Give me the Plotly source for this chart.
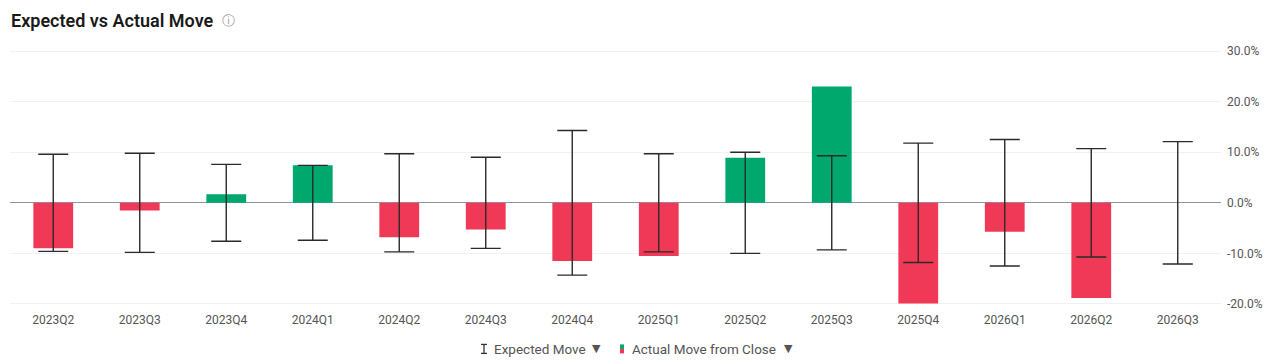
import plotly.graph_objects as go

quarters = ["2023Q2", "2023Q3", "2023Q4", "2024Q1", "2024Q2", "2024Q3", "2024Q4",
            "2025Q1", "2025Q2", "2025Q3", "2025Q4", "2026Q1", "2026Q2", "2026Q3"]
expected_move = [9.6, 9.8, 7.6, 7.4, 9.7, 9.0, 14.3, 9.7, 10.0, 9.3, 11.8, 12.5, 10.7, 12.1]
actual_move = [-9.0, -1.5, 1.7, 7.4, -6.8, -5.3, -11.5, -10.5, 8.9, 23.0, -19.9, -5.7, -18.8, None]
y_ticks = [-20, -10, 0, 10, 20, 30]
y_tick_labels = ["-20.0%", "-10.0%", "0.0%", "10.0%", "20.0%", "30.0%"]

GREEN = "#00a86e"
RED = "#f03957"
TEXT = "#555555"

W, H = 1272, 363
L, R, T, B = 10, 51, 49.5, 58

def px2x(px):
    return (px - L) / (W - L - R)

def py2y(py):
    return (H - B - py) / (H - T - B)

bar_colors = [(GREEN if (v is not None and v >= 0) else RED) for v in actual_move]

fig = go.Figure()
fig.add_trace(go.Bar(
    x=quarters, y=actual_move, marker=dict(color=bar_colors, line=dict(width=0)),
    width=0.46, hoverinfo="skip"))
fig.add_trace(go.Scatter(
    x=quarters, y=[0] * len(quarters), mode="markers",
    marker=dict(size=0.1, color="rgba(0,0,0,0)"),
    error_y=dict(type="data", array=expected_move, symmetric=True,
                 color="#2a2a2a", thickness=1.4, width=15)))

shapes = []
annotations = []

# title
annotations.append(dict(text="Expected vs Actual Move", x=px2x(9), y=py2y(20),
                        xref="paper", yref="paper", xanchor="left", yanchor="middle",
                        showarrow=False, font=dict(family="Roboto", size=18, color="#1a1a1a", weight=600)))
annotations.append(dict(text="ⓘ", x=px2x(220), y=py2y(20),
                        xref="paper", yref="paper", xanchor="left", yanchor="middle",
                        showarrow=False, font=dict(family="DejaVu Sans", size=13, color="#999999")))

# legend: expected move icon
lx = 484
ly = 349
shapes.append(dict(type="line", xref="paper", yref="paper", x0=px2x(lx), x1=px2x(lx),
                   y0=py2y(ly - 4.5), y1=py2y(ly + 4.5), line=dict(color="#333", width=1.3)))
for dy in (-4.5, 4.5):
    shapes.append(dict(type="line", xref="paper", yref="paper", x0=px2x(lx - 3), x1=px2x(lx + 3),
                       y0=py2y(ly + dy), y1=py2y(ly + dy), line=dict(color="#333", width=1.3)))
annotations.append(dict(text="Expected Move", x=px2x(492), y=py2y(ly),
                        xref="paper", yref="paper", xanchor="left", yanchor="middle",
                        showarrow=False, font=dict(family="Roboto", size=13.5, color=TEXT)))
annotations.append(dict(text="▼", x=px2x(590), y=py2y(ly),
                        xref="paper", yref="paper", xanchor="left", yanchor="middle",
                        showarrow=False, font=dict(family="DejaVu Sans", size=11, color=TEXT)))
# legend: actual move icon
shapes.append(dict(type="rect", xref="paper", yref="paper", x0=px2x(620), x1=px2x(624),
                   y0=py2y(ly), y1=py2y(ly - 4.5), fillcolor=GREEN, line=dict(width=0)))
shapes.append(dict(type="rect", xref="paper", yref="paper", x0=px2x(620), x1=px2x(624),
                   y0=py2y(ly + 4.5), y1=py2y(ly), fillcolor=RED, line=dict(width=0)))
annotations.append(dict(text="Actual Move from Close", x=px2x(630), y=py2y(ly),
                        xref="paper", yref="paper", xanchor="left", yanchor="middle",
                        showarrow=False, font=dict(family="Roboto", size=13.5, color=TEXT)))
annotations.append(dict(text="▼", x=px2x(782), y=py2y(ly),
                        xref="paper", yref="paper", xanchor="left", yanchor="middle",
                        showarrow=False, font=dict(family="DejaVu Sans", size=11, color=TEXT)))

fig.update_layout(
    width=W, height=H,
    margin=dict(l=L, r=R, t=T, b=B),
    paper_bgcolor="white", plot_bgcolor="white",
    showlegend=False,
    font=dict(family="Roboto", size=12, color=TEXT),
    shapes=shapes, annotations=annotations,
    xaxis=dict(type="category", range=[-0.5, len(quarters) - 0.5], showgrid=False,
               showline=False, zeroline=False, ticks="", tickfont=dict(size=12, color=TEXT),
               ticklabelstandoff=6, fixedrange=True),
    yaxis=dict(side="right", range=[-20.2, 30.2], tickvals=y_ticks, ticktext=y_tick_labels,
               showgrid=True, gridcolor="#f1f1f1", gridwidth=1,
               zeroline=True, zerolinecolor="#8a94a8", zerolinewidth=1,
               showline=False, ticks="", ticklabelstandoff=5,
               tickfont=dict(size=12, color=TEXT), fixedrange=True),
)

fig.write_html("out.html", config={"displayModeBar": False})
